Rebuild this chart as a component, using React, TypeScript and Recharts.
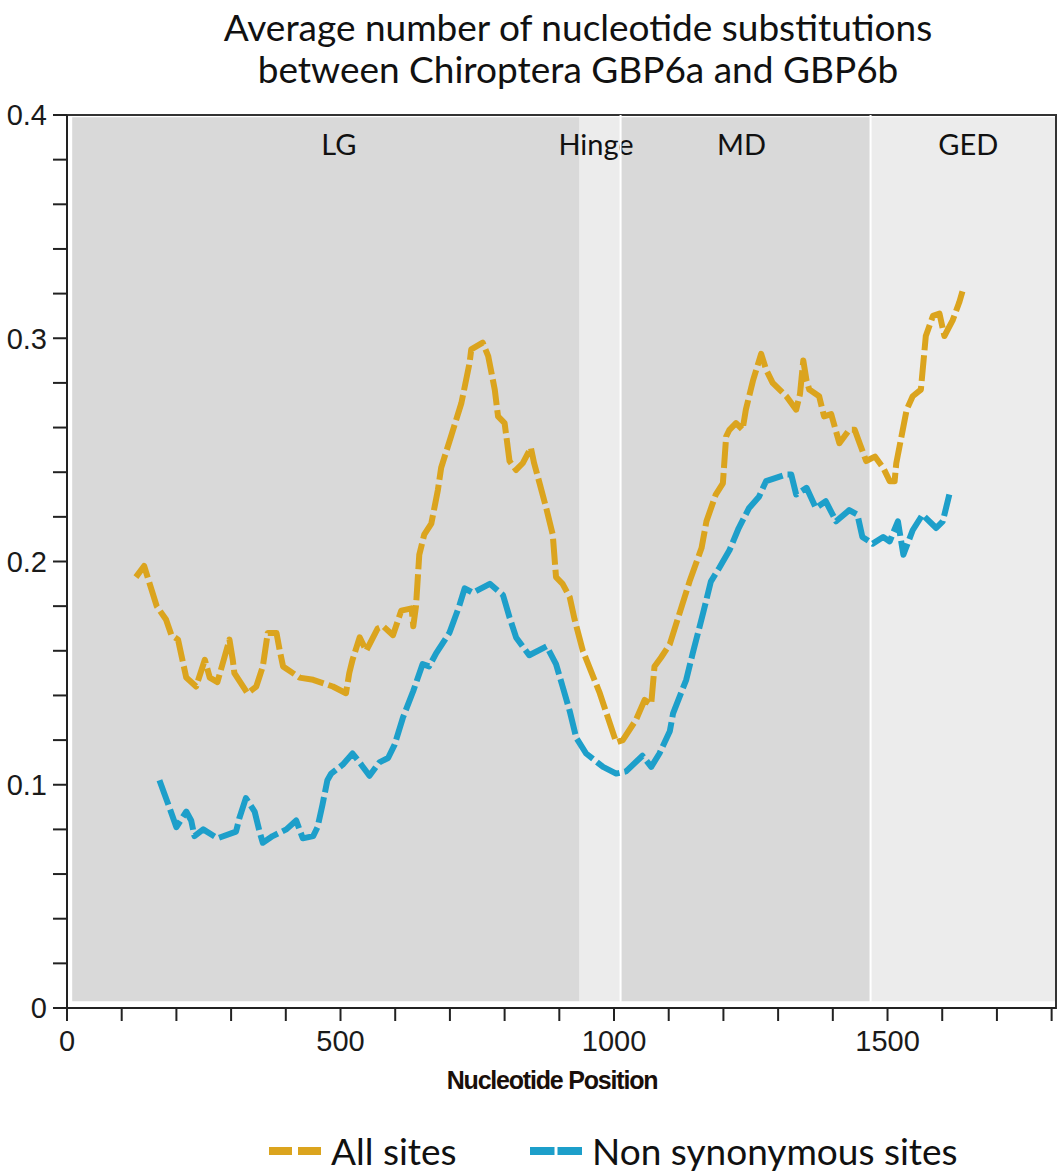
import { Line, LineChart, ReferenceArea, ReferenceLine, XAxis, YAxis } from 'recharts';

// sliding-window substitution averages
const allSitesPos = [
  126, 141, 164, 181, 191, 203, 218, 236, 252, 261, 275, 297, 303, 306, 330, 346, 358, 367, 383, 389,
  395, 425, 450, 486, 510, 516, 522, 535, 547, 568, 578, 596, 611, 630, 633, 638, 644, 653, 666, 678,
  684, 702, 721, 736, 739, 760, 770, 782, 788, 800, 809, 821, 833, 848, 854, 864, 876, 888, 894, 906,
  919, 928, 943, 974, 1004, 1016, 1040, 1056, 1068, 1074, 1086, 1102, 1120, 1138, 1160, 1169, 1186, 1199, 1205, 1211,
  1223, 1235, 1241, 1254, 1269, 1278, 1290, 1315, 1333, 1340, 1346, 1352, 1357, 1375, 1384, 1397, 1412, 1430, 1440, 1449,
  1461, 1477, 1492, 1504, 1513, 1516, 1535, 1546, 1561, 1570, 1583, 1595, 1604, 1619, 1631, 1637,
];
const allSitesVal = [
  0.193, 0.198, 0.18, 0.174, 0.167, 0.165, 0.148, 0.144, 0.156, 0.148, 0.146, 0.165, 0.156, 0.15, 0.141, 0.144, 0.153, 0.168, 0.168, 0.16,
  0.153, 0.148, 0.147, 0.144, 0.141, 0.15, 0.156, 0.166, 0.16, 0.17, 0.171, 0.167, 0.178, 0.179, 0.171, 0.18, 0.203, 0.212, 0.217, 0.232,
  0.242, 0.256, 0.271, 0.289, 0.295, 0.298, 0.292, 0.277, 0.265, 0.262, 0.245, 0.241, 0.244, 0.251, 0.244, 0.235, 0.224, 0.212, 0.193, 0.19,
  0.184, 0.174, 0.16, 0.141, 0.119, 0.12, 0.129, 0.138, 0.136, 0.153, 0.157, 0.163, 0.177, 0.191, 0.206, 0.218, 0.23, 0.235, 0.256, 0.259,
  0.262, 0.259, 0.268, 0.281, 0.293, 0.286, 0.28, 0.274, 0.268, 0.275, 0.29, 0.281, 0.277, 0.274, 0.265, 0.266, 0.253, 0.259, 0.259, 0.253,
  0.245, 0.247, 0.242, 0.236, 0.236, 0.244, 0.268, 0.274, 0.277, 0.301, 0.31, 0.311, 0.301, 0.308, 0.316, 0.321,
];

const nonSynPos = [
  169, 178, 187, 200, 218, 227, 233, 249, 275, 309, 315, 327, 343, 352, 358, 376, 401, 419, 431, 450,
  458, 467, 476, 483, 504, 522, 538, 553, 571, 587, 599, 614, 633, 650, 662, 675, 699, 717, 727, 742,
  773, 797, 809, 821, 845, 877, 894, 906, 919, 931, 949, 980, 1004, 1022, 1052, 1068, 1083, 1102, 1108, 1132,
  1144, 1163, 1177, 1192, 1211, 1228, 1247, 1265, 1278, 1315, 1324, 1333, 1352, 1369, 1387, 1406, 1430, 1445, 1454, 1473,
  1492, 1504, 1519, 1529, 1546, 1564, 1589, 1601, 1607, 1613,
];
const nonSynVal = [
  0.102, 0.096, 0.09, 0.081, 0.088, 0.084, 0.077, 0.08, 0.076, 0.079, 0.085, 0.094, 0.088, 0.079, 0.074, 0.077, 0.08, 0.084, 0.076, 0.077,
  0.081, 0.091, 0.102, 0.105, 0.109, 0.114, 0.109, 0.104, 0.11, 0.112, 0.118, 0.13, 0.142, 0.154, 0.153, 0.159, 0.168, 0.18, 0.188, 0.186,
  0.19, 0.185, 0.175, 0.166, 0.158, 0.162, 0.154, 0.144, 0.133, 0.121, 0.114, 0.108, 0.105, 0.106, 0.113, 0.108, 0.114, 0.124, 0.132, 0.147,
  0.159, 0.177, 0.191, 0.197, 0.205, 0.215, 0.224, 0.229, 0.236, 0.239, 0.239, 0.23, 0.233, 0.224, 0.227, 0.218, 0.223, 0.221, 0.211, 0.208,
  0.211, 0.209, 0.218, 0.203, 0.214, 0.221, 0.215, 0.218, 0.224, 0.23,
];

// protein domains along the alignment
const domainNames = ['LG', 'Hinge', 'MD', 'GED'];
const domainStart = [9.5, 937, 1012, 1469];
const domainEnd = [937, 1012, 1469, 1808];

const xTicks = [0, 100, 200, 300, 400, 500, 600, 700, 800, 900, 1000, 1100, 1200, 1300, 1400, 1500, 1600, 1700, 1800];
const yTicks = [0, 0.02, 0.04, 0.06, 0.08, 0.1, 0.12, 0.14, 0.16, 0.18, 0.2, 0.22, 0.24, 0.26, 0.28, 0.3, 0.32, 0.34, 0.36, 0.38, 0.4];

const allSites = allSitesPos.map((x, i) => ({ x, v: allSitesVal[i] }));
const nonSyn = nonSynPos.map((x, i) => ({ x, v: nonSynVal[i] }));

const GOLD = '#dba41e';
const BLUE = '#1d9fca';
const DARK_BAND = '#d9d9d9';
const LIGHT_BAND = '#ececec';
const TICK_FONT = '"Liberation Sans", Arial, sans-serif';
const TEXT_FONT = 'Lato, "Open Sans", sans-serif';

const labelShift: Record<string, number> = { LG: 13, Hinge: -4, MD: -4, GED: 5 };

function regionLabel(name: string) {
  return (props: any) => {
    const vb = props.viewBox ?? {};
    return (
      <text
        x={vb.x + vb.width / 2 + (labelShift[name] ?? 0)}
        y={vb.y + 26}
        textAnchor="middle"
        dominantBaseline="central"
        fontFamily={TEXT_FONT}
        fontSize={29}
        fill="#111"
      >
        {name}
      </text>
    );
  };
}

function fmtY(v: number) {
  const tenth = Math.round(v * 10);
  if (Math.abs(v * 10 - tenth) > 1e-6) return '';
  return tenth === 0 ? '0' : (tenth / 10).toFixed(1);
}

function fmtX(v: number) {
  return v % 500 === 0 ? String(v) : '';
}

function LegendItem({ color, label, gap, left }: { color: string; label: string; gap: number; left: number }) {
  return (
    <div style={{ position: 'absolute', left, top: 0, display: 'flex', alignItems: 'center', whiteSpace: 'nowrap' }}>
      <svg width={52} height={12} style={{ marginRight: 10 }}>
        <line x1={0} y1={6} x2={52} y2={6} stroke={color} strokeWidth={8} strokeDasharray={`${(52 - gap) / 2} ${gap}`} />
      </svg>
      <span>{label}</span>
    </div>
  );
}

export default function App() {
  return (
    <div style={{ position: 'absolute', left: 0, top: 0, width: 1063, height: 1174, background: '#fff' }}>
      <div
        style={{
          position: 'absolute',
          left: 0,
          top: 6,
          width: 1156,
          textAlign: 'center',
          fontFamily: TEXT_FONT,
          fontSize: 37,
          lineHeight: '42px',
          color: '#111',
        }}
      >
        Average number of nucleotide substitutions
        <br />
        between Chiroptera GBP6a and GBP6b
      </div>

      <LineChart width={1063} height={1174} margin={{ top: 115, right: 7, left: 0, bottom: 126 }}>
        {domainNames.map((name, i) => (
          <ReferenceArea
            key={name}
            x1={domainStart[i]}
            x2={domainEnd[i]}
            y1={0.003}
            y2={0.399}
            fill={i % 2 === 0 ? DARK_BAND : LIGHT_BAND}
            fillOpacity={1}
            stroke="none"
          />
        ))}
        <ReferenceLine x={1012} stroke="#fff" strokeWidth={2} />
        <ReferenceLine x={1469} stroke="#fff" strokeWidth={2} />
        {domainNames.map((name, i) => (
          <ReferenceArea
            key={`${name}-label`}
            x1={domainStart[i]}
            x2={domainEnd[i]}
            y1={0.003}
            y2={0.399}
            fill="none"
            stroke="none"
            label={regionLabel(name)}
          />
        ))}
        <ReferenceArea x1={0} x2={1808} y1={0} y2={0.4} fill="none" stroke="#333" strokeWidth={2} />
        <XAxis
          dataKey="x"
          type="number"
          domain={[0, 1808]}
          ticks={xTicks}
          tickFormatter={fmtX}
          interval={0}
          height={40}
          tickSize={13}
          tickMargin={9}
          stroke="#222"
          axisLine={{ stroke: '#222', strokeWidth: 2 }}
          tickLine={{ stroke: '#222', strokeWidth: 2 }}
          tick={{ fill: '#1a1a1a', fontSize: 29, fontFamily: TICK_FONT }}
        />
        <YAxis
          type="number"
          domain={[0, 0.4]}
          ticks={yTicks}
          tickFormatter={fmtY}
          interval={0}
          width={67}
          tickSize={14}
          tickMargin={6}
          axisLine={{ stroke: '#222', strokeWidth: 2 }}
          tickLine={{ stroke: '#222', strokeWidth: 2 }}
          tick={{ fill: '#1a1a1a', fontSize: 29, fontFamily: TICK_FONT }}
        />
        <Line
          data={allSites}
          dataKey="v"
          type="linear"
          stroke={GOLD}
          strokeWidth={6}
          strokeDasharray="26 5"
          strokeLinejoin="round"
          dot={false}
          activeDot={false}
          isAnimationActive={false}
        />
        <Line
          data={nonSyn}
          dataKey="v"
          type="linear"
          stroke={BLUE}
          strokeWidth={6}
          strokeDasharray="26 5"
          strokeLinejoin="round"
          dot={false}
          activeDot={false}
          isAnimationActive={false}
        />
      </LineChart>

      <div
        style={{
          position: 'absolute',
          left: 0,
          top: 1066,
          width: 1104,
          textAlign: 'center',
          fontFamily: TICK_FONT,
          fontWeight: 'bold',
          fontSize: 25,
          letterSpacing: -1.2,
          color: '#1a0f0a',
        }}
      >
        Nucleotide Position
      </div>

      <div
        style={{
          position: 'absolute',
          left: 0,
          top: 1128,
          width: 1063,
          height: 46,
          fontFamily: TEXT_FONT,
          fontSize: 37,
          color: '#111',
        }}
      >
        <LegendItem color={GOLD} label="All sites" gap={6} left={269} />
        <LegendItem color={BLUE} label="Non synonymous sites" gap={3} left={530} />
      </div>
    </div>
  );
}
